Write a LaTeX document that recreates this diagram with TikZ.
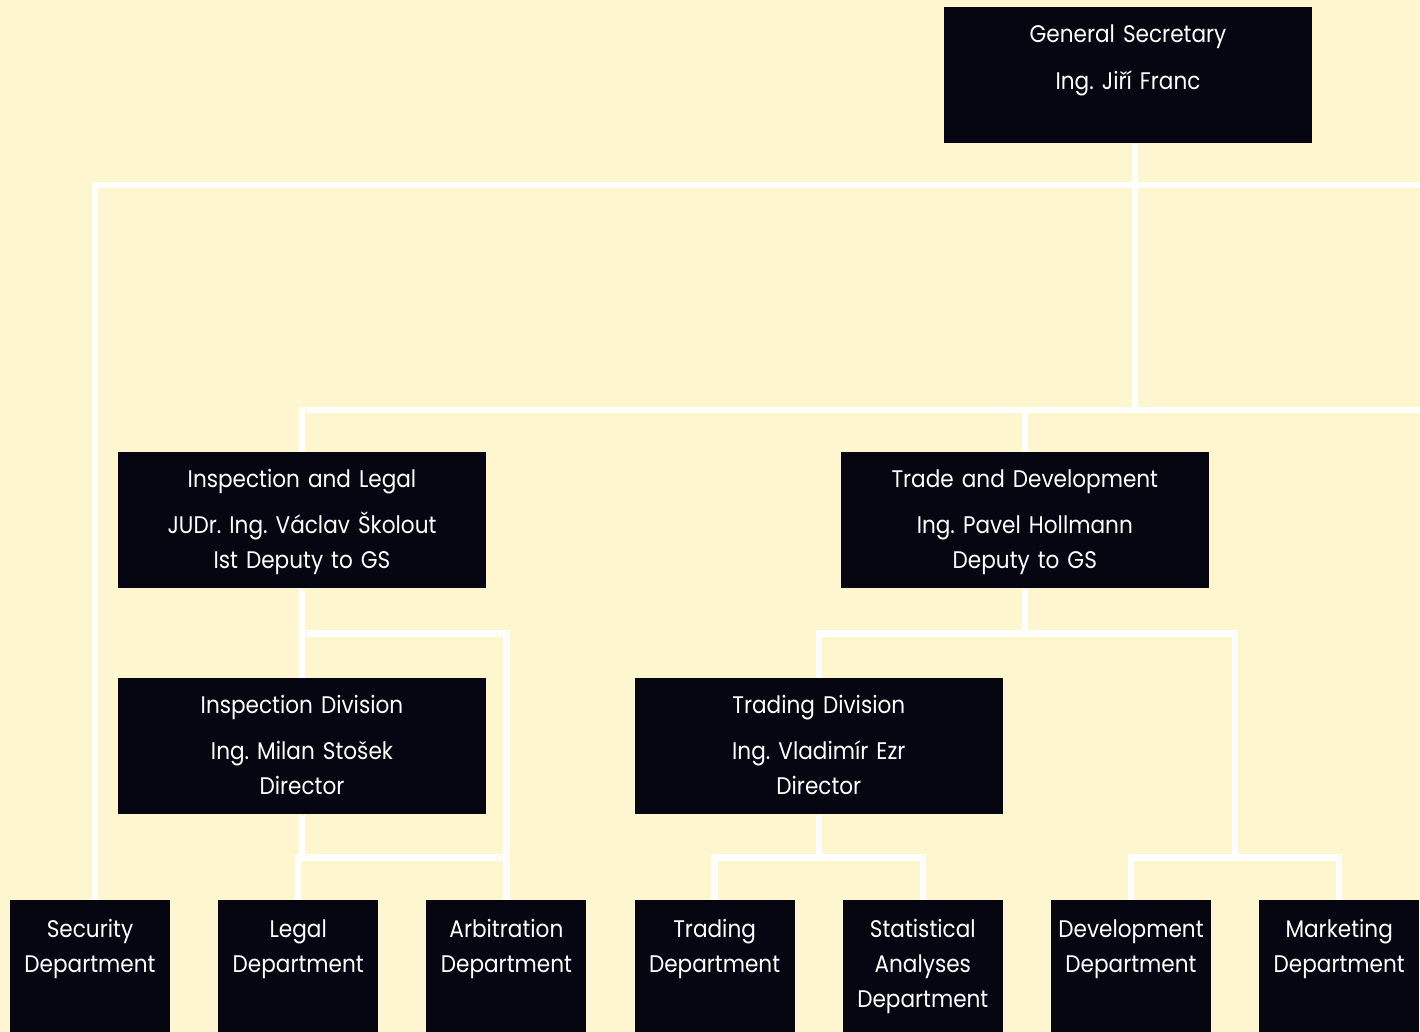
\documentclass[tikz,border=0pt]{standalone}
\usepackage{fontspec}
\setmainfont{Poppins}[FakeStretch=0.9]
\usetikzlibrary{positioning,calc}
\definecolor{paper}{RGB}{253,246,206}
\definecolor{ink}{RGB}{6,5,18}
\frenchspacing

\begin{document}
\begin{tikzpicture}[x=0.5pt,y=-0.5pt]
\tikzstyle{unit}=[fill=ink, text=white, inner sep=0pt, text width=184pt, align=center, text height=17.5pt, text depth=50.5pt, font=\fontsize{12pt}{17.5pt}\selectfont]
\tikzstyle{dept}=[unit, text width=80pt, text height=18.5pt, text depth=47.5pt]
\tikzstyle{wire}=[draw=white, line width=3.2pt]
\path[use as bounding box, fill=paper] (0,0) rectangle (1420,1032);
\node (00) [unit, anchor=north] at (1128,7) {General Secretary\\[6pt] Ing. Jiří Franc};
\node (10) [unit, anchor=north] at (302,452) {Inspection and Legal\\[5.5pt] JUDr. Ing. Václav Školout\\ Ist Deputy to GS};
\node (11) [unit, right=177pt of 10] {Trade and Development\\[5.5pt] Ing. Pavel Hollmann\\ Deputy to GS};
\node (20) [unit, below=44.5pt of 10] {Inspection Division\\[5.5pt] Ing. Milan Stošek\\ Director};
\node (21) [unit, right=74pt of 20] {Trading Division\\[5.5pt] Ing. Vladimír Ezr\\ Director};
\node (30) [dept, anchor=north] at (90,900) {Security\\ Department};
\node (31) [dept, right=23.7pt of 30] {Legal\\ Department};
\node (32) [dept, right=23.7pt of 31] {Arbitration\\ Department};
\node (33) [dept, right=23.7pt of 32] {Trading\\ Department};
\node (34) [dept, right=23.7pt of 33] {Statistical\\ Analyses\\ Department};
\node (35) [dept, right=23.7pt of 34] {Development\\ Department};
\node (36) [dept, right=23.7pt of 35] {Marketing\\ Department};
\coordinate (busA) at (1420,185);
\coordinate (busB) at (1420,410);
\coordinate (jL) at ($(20.south)!.5!(31.north)$);
\coordinate (jT) at ($(11.south)!.5!(21.north)$);
\coordinate (jB) at ($(21.south)!.5!(33.north)$);
\coordinate (jM) at ($(35.north)!.5!(36.north)$);
\draw[wire] ([xshift=2.5pt]30.north) |- (busA);
\draw[wire] ([xshift=3.5pt]00.south) -- ([xshift=3.5pt]00.south |- busB);
\draw[wire] (10.north) |- (busB);
\draw[wire] (11.north) -- (11.north |- busB);
\draw[wire] (10.south) -- (20.north);
\draw[wire] (32.north) |- ($(10.south)!.5!(20.north)$);
\draw[wire] (20.south) -- (20.south |- jL);
\draw[wire] (31.north) |- (32.north |- jL);
\draw[wire] (11.south) -- (11.south |- jT);
\draw[wire] (21.north) |- (jM |- jT) -- (jM |- jB);
\draw[wire] (35.north) |- (36.north |- jB) -- (36.north);
\draw[wire] (21.south) -- (21.south |- jB);
\draw[wire] (33.north) |- (34.north |- jB) -- (34.north);
\end{tikzpicture}
\end{document}
